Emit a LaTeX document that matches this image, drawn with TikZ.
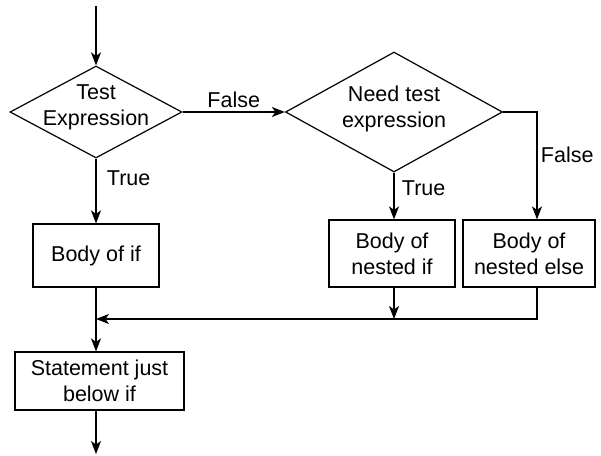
\documentclass[tikz,border=0pt]{standalone}
\usepackage{fontspec}
\setmainfont{Liberation Sans}
\usetikzlibrary{shapes,arrows.meta,positioning}

\begin{document}
\begin{tikzpicture}[x=1pt, y=-1pt, line width=1.2pt,
        font=\fontsize{21.5}{26}\selectfont,
        block/.style={draw, align=center, inner sep=0pt},
        decision/.style={draw, diamond, inner sep=0pt},
        flow/.style={-{Stealth[length=13pt, width=10pt, inset=3.5pt]}}]
        \useasboundingbox (0,0) rectangle (601,455);

        % Test expression
        \node [decision, minimum width=172pt, minimum height=92pt,
            label={[align=center, yshift=5pt]center:Test\\Expression}] (test) at (96,112) {};
        \coordinate (start) at (96,6);

        % Nested test expression
        \node [decision, minimum width=217pt, minimum height=120pt,
            label={[align=center, yshift=3pt]center:Need test\\expression}] (nested) at (394,112) {};

        % Bodies
        \node [block, minimum width=126pt, minimum height=63pt] (ifbody) at (96,255.5) {Body of if};
        \node [block, minimum width=126pt, minimum height=67pt] (nestedif) at (392,253.5) {Body of\\nested if};
        \node [block, minimum width=132pt, minimum height=67pt] (nestedelse) at (529,253.5) {Body of\\nested else};

        % Statement after if
        \coordinate (join) at (96,319);
        \node [block, minimum width=169pt, minimum height=58pt] (stmt) at (99.5,381) {Statement just\\below if};
        \coordinate (end) at (96,454);

        % Connectors
        \draw [flow] (start) -- (test.north);
        \draw [flow] (test.east) -- node [above] {False} (nested.west);
        \draw [flow] (test.south) -- node [right=7pt, pos=0.3] {True} (ifbody.north);
        \draw [flow] (nested.south) -- node [right=4pt, pos=0.33] {True} (nested.south |- nestedif.north);
        \draw [flow] (nested.east) -| node [right, pos=0.7] {False} ([xshift=8pt]nestedelse.north);
        \draw [flow] (nested.south |- nestedif.south) -- (nested.south |- join);
        \draw [flow] ([xshift=8pt]nestedelse.south) |- (join);
        \draw [flow] (ifbody.south) -- (ifbody.south |- stmt.north);
        \draw [flow] (ifbody.south |- stmt.south) -- (end);
\end{tikzpicture}
\end{document}
